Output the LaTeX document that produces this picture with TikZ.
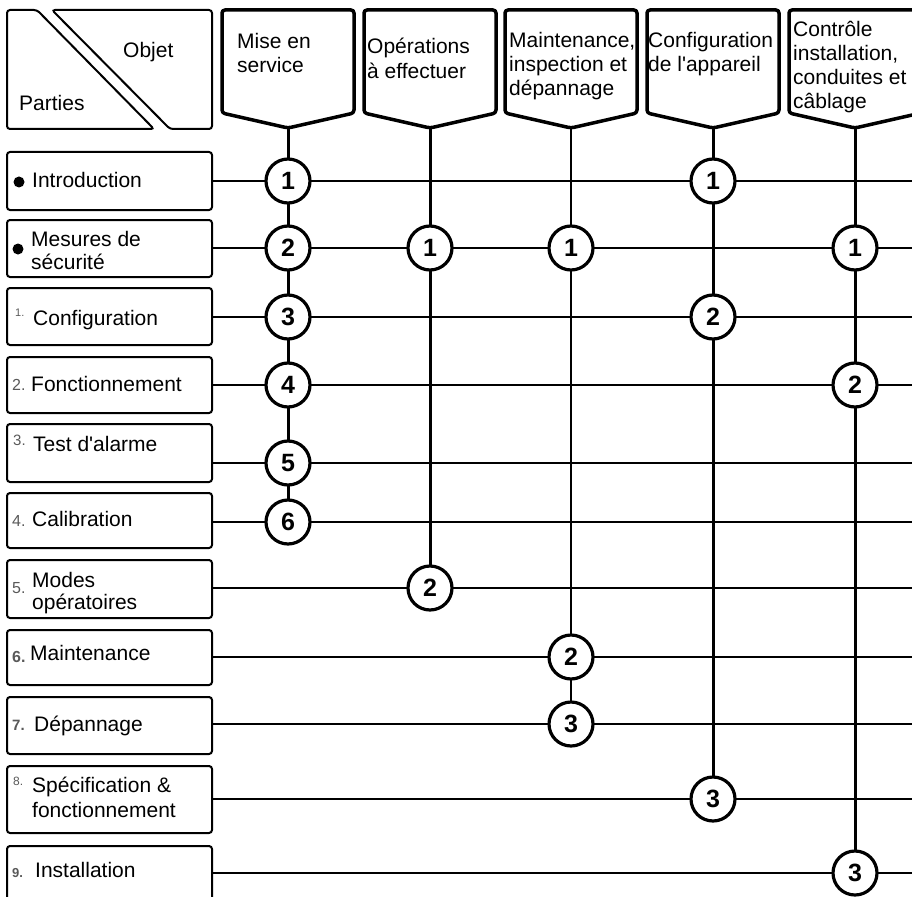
\documentclass[tikz,border=0pt]{standalone}
\usepackage{fontspec}
\setmainfont{Liberation Sans}
\pgfdeclarelayer{bg}
\pgfsetlayers{bg,main}
\begin{document}
\begin{tikzpicture}[x=1pt,y=-1pt,
  rowbox/.style={draw, line width=2pt, rounded corners=3pt, minimum width=205pt, inner sep=0pt},
  hdr/.style={draw, line width=3.5pt, rounded corners=3pt, line join=round},
  hline/.style={line width=1.6pt},
  vline/.style={line width=3pt},
  num/.style={circle, draw, fill=white, line width=3.2pt, minimum size=44pt, inner sep=0pt, font=\fontsize{25}{25}\selectfont\bfseries},
  lbl/.style={anchor=base west, inner sep=0pt, font=\fontsize{21}{24}\selectfont},
  idx/.style={anchor=base west, inner sep=0pt, text=black!65},
  dot/.style={circle, fill=black, minimum size=11pt, inner sep=0pt},
]
\useasboundingbox (0,0) rectangle (912,896);
\clip (0,0) rectangle (912,896);

% corner box
\draw[line width=2pt, rounded corners=3pt] (37,10) -- (7,10) -- (7,129) -- (154,129) -- cycle;
\draw[line width=2pt, rounded corners=3pt] (52,10) -- (212,10) -- (212,129) -- (170,129) -- cycle;
\node[lbl] (objet) at (123,58) {Objet};
\node[lbl] (parties) at (19,111) {Parties};

% column headers
\foreach \x/\n in {288/1,430/2,571/3,713/4,855/5}{
  \draw[hdr] (\x-66,10) -- (\x+66,10) -- (\x+66,113) -- (\x,128) -- (\x-66,113) -- cycle;
  \coordinate (h\n) at (\x,128);
}
\node[lbl] (m1a) at (237,49) {Mise en};
\node[lbl] (m1b) at (237,73) {service};
\node[lbl] (m2a) at (367,54) {Opérations};
\node[lbl] (m2b) at (367,79) {à effectuer};
\node[lbl] (m3a) at (509,48) {Maintenance,};
\node[lbl] (m3b) at (509,72) {inspection et};
\node[lbl] (m3c) at (509,96) {dépannage};
\node[lbl] (m4a) at (648,48) {Configuration};
\node[lbl] (m4b) at (648,72) {de l\textquotesingle appareil};
\node[lbl] (m5a) at (793,37) {Contrôle};
\node[lbl] (m5b) at (793,61) {installation,};
\node[lbl] (m5c) at (793,85) {conduites et};
\node[lbl] (m5d) at (793,109) {câblage};

% row boxes
\node[rowbox, minimum height=58pt] (r1) at (109.5,181) {};
\node[rowbox, minimum height=57pt] (r2) at (109.5,248.5) {};
\node[rowbox, minimum height=57pt] (r3) at (109.5,316.5) {};
\node[rowbox, minimum height=56pt] (r4) at (109.5,385) {};
\node[rowbox, minimum height=58pt] (r5) at (109.5,453) {};
\node[rowbox, minimum height=55pt] (r6) at (109.5,520.5) {};
\node[rowbox, minimum height=58pt] (r7) at (109.5,589) {};
\node[rowbox, minimum height=55pt] (r8) at (109.5,657.5) {};
\node[rowbox, minimum height=57pt] (r9) at (109.5,725.5) {};
\node[rowbox, minimum height=67pt] (r10) at (109.5,799.5) {};
\node[rowbox, minimum height=58pt] (r11) at (109.5,875) {};

% row texts
\node[dot] (b1) at (19,182) {};
\node[lbl] (l1) at (32,188) {Introduction};
\node[dot] (b2) at (18,249) {};
\node[lbl] (l2a) at (31,246) {Mesures de};
\node[lbl] (l2b) at (31,269) {sécurité};
\node[idx, font=\fontsize{11}{11}\selectfont] (i1) at (15,316) {1.};
\node[lbl] (l3) at (33,325) {Configuration};
\node[idx, font=\fontsize{16}{16}\selectfont] (i2) at (12,390) {2.};
\node[lbl] (l4) at (31,391) {Fonctionnement};
\node[idx, font=\fontsize{15}{15}\selectfont] (i3) at (13,445) {3.};
\node[lbl] (l5) at (33,451) {Test d\textquotesingle alarme};
\node[idx, font=\fontsize{16}{16}\selectfont] (i4) at (12,526) {4.};
\node[lbl] (l6) at (32,526) {Calibration};
\node[idx, font=\fontsize{16}{16}\selectfont] (i5) at (12,593) {5.};
\node[lbl] (l7a) at (32,587) {Modes};
\node[lbl] (l7b) at (32,609) {opératoires};
\node[idx, font=\fontsize{16}{16}\selectfont\bfseries] (i6) at (12,662) {6.};
\node[lbl] (l8) at (30,660) {Maintenance};
\node[idx, font=\fontsize{15}{15}\selectfont\bfseries] (i7) at (12,730) {7.};
\node[lbl] (l9) at (34,731) {Dépannage};
\node[idx, font=\fontsize{12}{12}\selectfont] (i8) at (13,785) {8.};
\node[lbl] (l10a) at (32,792) {Spécification \&};
\node[lbl] (l10b) at (32,817) {fonctionnement};
\node[idx, font=\fontsize{13}{13}\selectfont\bfseries] (i9) at (12,877) {9.};
\node[lbl] (l11) at (35,877) {Installation};

% right ends of row lines
\coordinate (e1) at (912,181);
\coordinate (e2) at (912,248);
\coordinate (e3) at (912,317);
\coordinate (e4) at (912,385);
\coordinate (e5) at (912,463);
\coordinate (e6) at (912,522);
\coordinate (e7) at (912,588);
\coordinate (e8) at (912,657);
\coordinate (e9) at (912,724);
\coordinate (e10) at (912,799);
\coordinate (e11) at (912,873);

% circles
\node[num] (c11) at (288,181) {1};
\node[num] (c12) at (288,248) {2};
\node[num] (c13) at (288,317) {3};
\node[num] (c14) at (288,385) {4};
\node[num] (c15) at (288,463) {5};
\node[num] (c16) at (288,522) {6};
\node[num] (c21) at (430,248) {1};
\node[num] (c22) at (430,588) {2};
\node[num] (c31) at (571,248) {1};
\node[num] (c32) at (571,657) {2};
\node[num] (c33) at (571,724) {3};
\node[num] (c41) at (713,181) {1};
\node[num] (c42) at (713,317) {2};
\node[num] (c43) at (713,799) {3};
\node[num] (c51) at (855,248) {1};
\node[num] (c52) at (855,385) {2};
\node[num] (c53) at (855,873) {3};

\begin{pgfonlayer}{bg}
  \foreach \i in {1,...,11}{
    \draw[hline] (r\i.east |- e\i) -- (e\i);
  }
  \draw[vline] (h1) -- (c16.center);
  \draw[vline] (h2) -- (c22.center);
  \draw[vline, line width=2.2pt] (h3) -- (c33.center);
  \draw[vline] (h4) -- (c43.center);
  \draw[vline] (h5) -- (c53.center);
\end{pgfonlayer}
\end{tikzpicture}
\end{document}
